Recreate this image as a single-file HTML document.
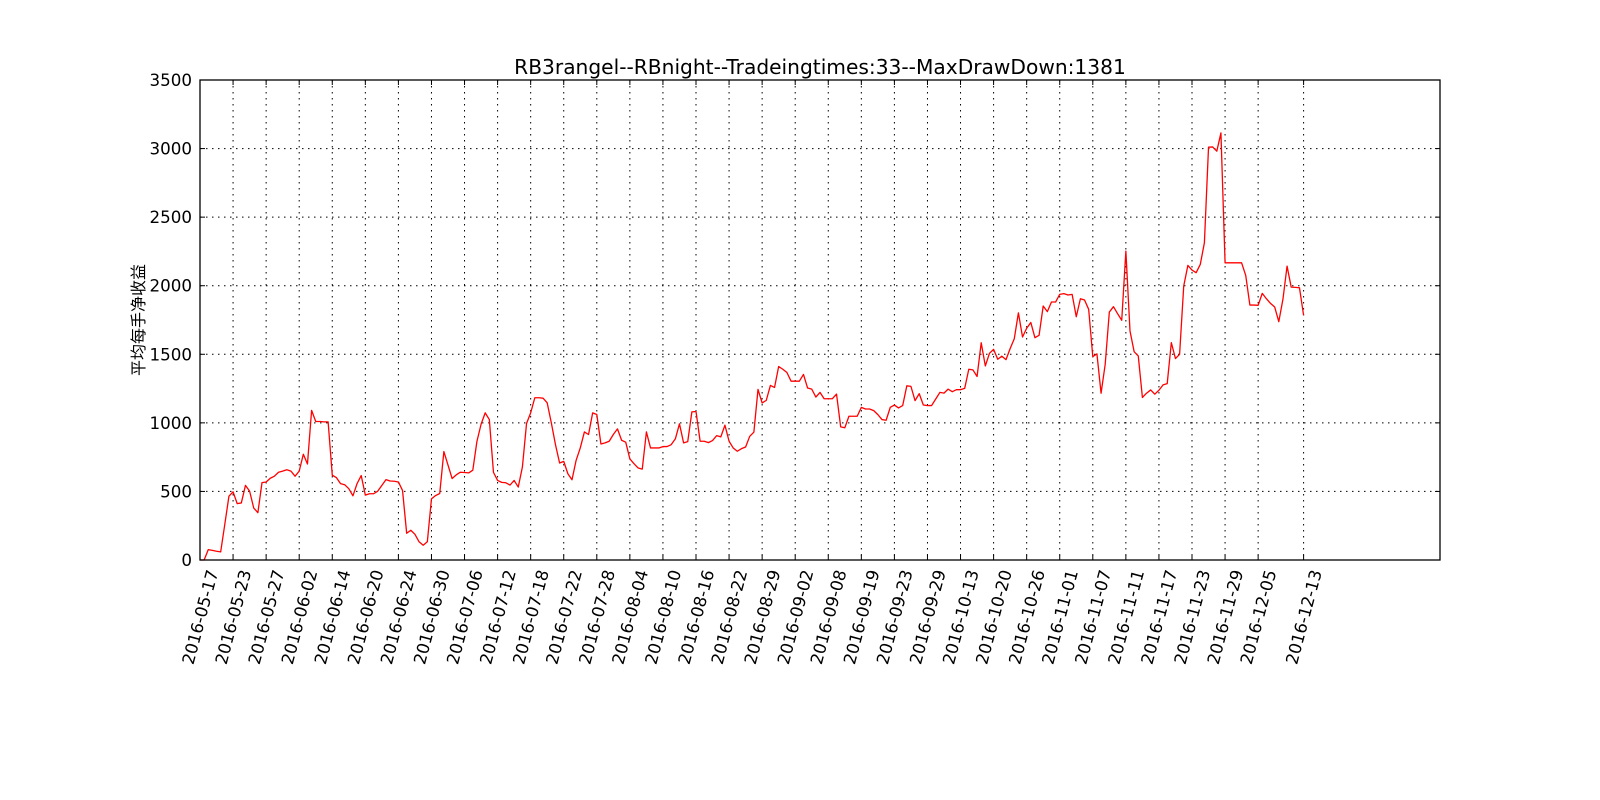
<!DOCTYPE html>
<html><head><meta charset="utf-8"><style>
html,body{margin:0;padding:0;background:#fff;}
svg{display:block;}
text{font-family:"DejaVu Sans","Liberation Sans","Noto Sans CJK SC",sans-serif;fill:#000;}
</style></head><body>
<svg id="chart" width="1600" height="800" viewBox="0 0 1600 800" xmlns="http://www.w3.org/2000/svg">
<rect x="0" y="0" width="1600" height="800" fill="#fff"/>
<text x="820" y="74" text-anchor="middle" font-size="20.2">RB3rangel--RBnight--Tradeingtimes:33--MaxDrawDown:1381</text>
<text x="0" y="0" transform="translate(144,320) rotate(-90)" text-anchor="middle" font-size="16" style="font-family:'Noto Sans CJK SC',sans-serif">平均每手净收益</text>
<g id="grid"></g>
<g id="ticks"></g>
<g id="series"></g>
<rect x="200" y="80" width="1240" height="480" fill="none" stroke="#000" stroke-width="1.3"/>
</svg>
<script>
const values = [0,0,76,70,64,59,260,465,497,411,416,544,502,379,345,564,569,596,611,640,648,658,648,611,648,771,700,1091,1010,1010,1007,1007,618,601,557,549,520,468,557,616,473,483,483,502,544,586,576,574,569,507,195,217,187,133,108,133,446,470,485,791,692,594,621,640,638,635,655,865,990,1073,1024,639,580,566,563,546,580,532,678,995,1073,1183,1183,1180,1146,1000,841,707,719,629,585,727,817,934,915,1073,1061,846,854,866,915,956,873,859,737,702,671,663,934,817,817,817,827,827,841,883,993,854,863,1080,1083,866,866,856,871,907,898,983,866,817,793,812,824,902,932,1244,1145,1164,1273,1258,1411,1391,1367,1304,1304,1304,1353,1254,1246,1188,1222,1176,1176,1176,1210,971,964,1048,1048,1048,1113,1101,1101,1089,1060,1024,1019,1113,1130,1109,1126,1270,1266,1162,1213,1130,1126,1126,1174,1222,1217,1246,1227,1242,1242,1251,1391,1386,1338,1584,1415,1507,1536,1464,1486,1461,1541,1613,1802,1626,1690,1732,1621,1638,1852,1811,1881,1881,1937,1942,1932,1937,1774,1905,1896,1828,1483,1503,1216,1427,1808,1847,1796,1748,2252,1670,1519,1488,1185,1216,1240,1209,1238,1277,1286,1585,1469,1500,1998,2148,2114,2095,2155,2313,3010,3012,2981,3114,2167,2167,2167,2167,2167,2075,1859,1859,1857,1944,1905,1871,1845,1738,1901,2143,1990,1988,1985,1784];
const xTickIdx = [0,8,16,24,32,40,48,56,64,72,80,88,96,104,112,120,128,136,144,152,160,168,176,184,192,200,208,216,224,232,240,248,256,267];
const xTickLabels = ["2016-05-17","2016-05-23","2016-05-27","2016-06-02","2016-06-14","2016-06-20","2016-06-24","2016-06-30","2016-07-06","2016-07-12","2016-07-18","2016-07-22","2016-07-28","2016-08-04","2016-08-10","2016-08-16","2016-08-22","2016-08-29","2016-09-02","2016-09-08","2016-09-19","2016-09-23","2016-09-29","2016-10-13","2016-10-20","2016-10-26","2016-11-01","2016-11-07","2016-11-11","2016-11-17","2016-11-23","2016-11-29","2016-12-05","2016-12-13"];
const yTicks = [0,500,1000,1500,2000,2500,3000,3500];

const NS="http://www.w3.org/2000/svg";
const X0=200,X1=1440,Y0=560,Y1=80,XMAX=300,YMAX=3500;
function xs(i){return X0+(X1-X0)*i/XMAX;}
function ys(v){return Y0-(Y0-Y1)*v/YMAX;}
function mk(tag,attrs,parent){const e=document.createElementNS(NS,tag);for(const k in attrs)e.setAttribute(k,attrs[k]);parent.appendChild(e);return e;}
const grid=document.getElementById('grid'),ticks=document.getElementById('ticks'),series=document.getElementById('series');

yTicks.forEach(v=>{
  const y=ys(v);
  if(v>0&&v<YMAX){const g=mk('line',{x1:X0,x2:X1,y1:y,y2:y,stroke:'#000','stroke-width':1,'stroke-dasharray':'1.5,4.5'},grid);
  
  }
  const t1=mk('line',{x1:X0,x2:X0+5,y1:y,y2:y,stroke:'#000','stroke-width':1},ticks);
  
  
  const t2=mk('line',{x1:X1-5,x2:X1,y1:y,y2:y,stroke:'#000','stroke-width':1},ticks);
  
  
  const lb=mk('text',{x:X0-8,y:y+6,'text-anchor':'end','font-size':16.7},ticks);
  lb.textContent=v;
  
  
});
xTickIdx.forEach((i,k)=>{
  const x=xs(i);
  const g=mk('line',{x1:x,x2:x,y1:Y1,y2:Y0,stroke:'#000','stroke-width':1,'stroke-dasharray':'1.5,4.5'},grid);
  
  
  const t1=mk('line',{x1:x,x2:x,y1:Y0-5,y2:Y0,stroke:'#000','stroke-width':1},ticks);
  
  
  const t2=mk('line',{x1:x,x2:x,y1:Y1,y2:Y1+5,stroke:'#000','stroke-width':1},ticks);
  
  
  const lb=mk('text',{x:0,y:0,'text-anchor':'middle','dominant-baseline':'central','font-size':16.7,transform:`translate(${x},617) rotate(-75)`},ticks);
  lb.textContent=xTickLabels[k];
  
  
});
const pts=values.map((v,i)=>xs(i).toFixed(2)+','+ys(v).toFixed(2)).join(' ');
const pl=mk('polyline',{points:pts,fill:'none',stroke:'#ff0000','stroke-width':1.3,'stroke-linejoin':'round'},series);


</script>
</body></html>
